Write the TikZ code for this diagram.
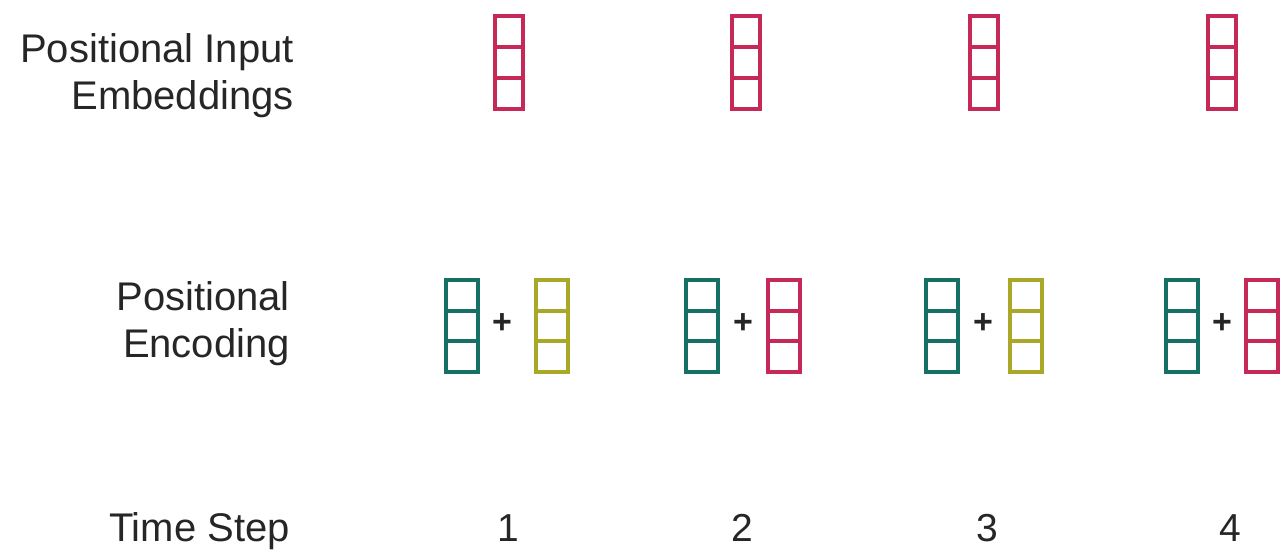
\documentclass[tikz,border=0pt]{standalone}
\usepackage{fontspec}
\setmainfont{Liberation Sans}
\usepackage{tikz}
\usetikzlibrary{positioning,calc}
\definecolor{ink}{RGB}{38,38,38}
\definecolor{vred}{RGB}{198,40,88}
\definecolor{vteal}{RGB}{22,112,100}
\definecolor{volive}{RGB}{170,168,40}
\tikzset{
  label/.style={font=\fontsize{40}{47}\selectfont,text=ink,inner sep=0pt,align=right},
  num/.style={font=\fontsize{39}{47}\selectfont,text=ink,inner sep=0pt,anchor=base},
  plus/.style={font=\fontsize{34}{40}\selectfont\bfseries,text=ink,inner sep=0pt},
  vec/.style={draw=#1,line width=4pt,inner sep=0pt,outer sep=0pt,
    minimum width=28pt,minimum height=93pt,
    path picture={
      \foreach \f in {1/3,2/3}
        \draw[#1,line width=4pt]
          ($(path picture bounding box.south west)!\f!(path picture bounding box.north west)$) --
          ($(path picture bounding box.south east)!\f!(path picture bounding box.north east)$);
    }},
  wvec/.style={vec=#1,minimum width=32pt,minimum height=92pt}
}
\begin{document}
\begin{tikzpicture}[x=1pt,y=1pt]
  \useasboundingbox (0,0) rectangle (1281,550);
  % row labels
  \node[label,anchor=base east] (embLabel) at (294,440) {Positional Input\\Embeddings};
  \node[label,anchor=base east] (encLabel) at (290,193) {Positional\\Encoding};
  \node[label,anchor=base east] (stepLabel) at (290,9) {Time Step};
  % input embeddings
  \foreach \i/\x in {1/508.5,2/746,3/984,4/1221.5}
    \node[vec=vred] (emb\i) at (\x,487.5) {};
  % positional encoding: teal + second vector
  \foreach \i/\x/\p/\y/\c in {1/462/502/552/volive,2/702/743/783.5/vred,3/942/983/1026/volive,4/1182/1222/1261.5/vred} {
    \node[wvec=vteal] (pos\i) at (\x,224) {};
    \node[plus] (plus\i) at (\p,226) {+};
    \node[wvec=\c] (add\i) at (\y,224) {};
  }
  % time steps
  \foreach \i/\x in {1/508,2/742,3/987,4/1230}
    \node[num] (step\i) at (\x,9) {\i};
\end{tikzpicture}
\end{document}
